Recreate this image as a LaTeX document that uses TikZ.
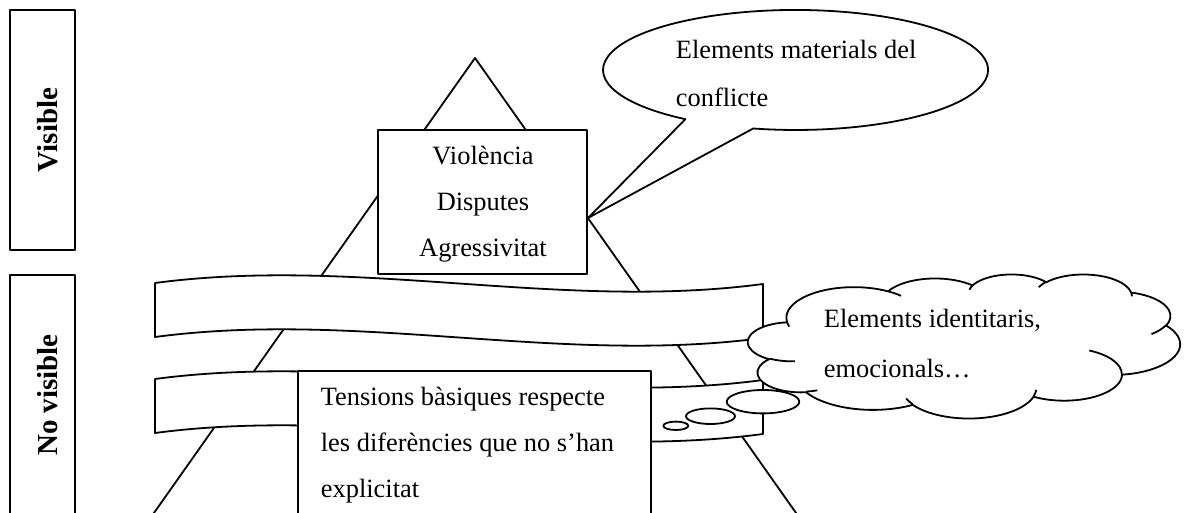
\documentclass[tikz,border=0pt]{standalone}
\usepackage{fontspec}
\setmainfont{Liberation Serif}

\newcommand\cldarc[4]{\pgfextra{%
    \pgfmathsetmacro\cla{atan2(#1*sin(#3),#2*cos(#3))}%
    \pgfmathsetmacro\clb{mod(atan2(#1*sin(#3+#4),#2*cos(#3+#4))-\cla+720,360)}%
    \xdef\clarcs{\cla}\xdef\clarcd{\clb}}%
  arc[start angle=\clarcs,delta angle=\clarcd,x radius=#1,y radius=#2]}

\begin{document}
\begin{tikzpicture}[x=0.5pt,y=-0.5pt,line width=0.9pt,line join=round,
  txt/.style={font=\fontsize{13.2}{23}\selectfont,inner sep=0pt,align=left},
  lbl/.style={draw,rotate=90,minimum width=120pt,minimum height=32.5pt,text height=15pt,text depth=0pt,font=\fontsize{14.5}{16}\selectfont\bfseries},
  band/.style={draw,fill=white}]
\fill[white] (0,0) rectangle (1184,513);
\clip (0,0) rectangle (1184,513);
\node[lbl] (vis) at (42.5,130) {Visible};
\node[lbl] (novis) at (42.5,395) {No visible};
\draw (149,520) -- (475,58) -- (801,520);
\draw[band] (155,283) .. controls (358,256) and (560,311) .. (763,284) -- (763,338) .. controls (560,365) and (358,310) .. (155,337) -- cycle;
\draw[band] (155,379) .. controls (358,352) and (560,407) .. (763,380) -- (763,434) .. controls (560,461) and (358,406) .. (155,433) -- cycle;
\node[draw,fill=white,minimum width=104.5pt,minimum height=72pt] (violbox) at (482.5,202) {};
\node[txt,align=center,anchor=base] (viol) at (483,257) {Violència\\Disputes\\Agressivitat};
\draw[band] (298,371) rectangle (651,530);
\node[txt,anchor=base west] (tens) at (320,497) {Tensions bàsiques respecte\\les diferències que no s’han\\explicitat};
\coordinate (tip) at (588,218);
\draw[band] (tip) -- (753.2,128.5) arc[start angle=102.7,end angle=-235.1,x radius=192.5,y radius=60] -- cycle;
\node[txt,anchor=base west] (mat) at (675,107) {Elements materials del\\[1pt]conflicte};
\begin{scope}[shift={(748,274)},x=0.5pt,y=-0.16667pt]
\draw[band] (39,143.7) \cldarc{67.53}{91.90}{-190.4875}{123.7805}
  \cldarc{53.33}{72.67}{-144.1024}{89.9452}
  \cldarc{43.65}{59.45}{-145.8079}{99.7230}
  \cldarc{48.57}{65.95}{-130.9861}{117.2417}
  \cldarc{53.33}{72.73}{-78.7089}{109.0269}
  \cldarc{67.75}{92.20}{-46.2673}{130.2690}
  \cldarc{57.85}{78.67}{0.6250}{114.0333}
  \cldarc{67.52}{92.15}{22.4516}{115.1726}
  \cldarc{77.20}{105.43}{66.2426}{75.7110}
  \cldarc{43.60}{59.18}{-274.9421}{146.7356}
  \cldarc{43.45}{59.45}{-246.8285}{152.5189} -- cycle;
\draw (46.93,261.77) \cldarc{43.45}{59.45}{86.7420}{26.4295}
  (69.28,348.99) \cldarc{43.60}{59.18}{73.6105}{11.4475}
  (164.78,390.90) \cldarc{67.52}{92.15}{137.6242}{14.0811}
  (288.27,347.51) \cldarc{67.52}{92.15}{6.4533}{15.9984}
  (341.29,229.54) \cldarc{57.85}{78.67}{-70.2924}{70.9174}
  (417.98,153.54) \cldarc{53.33}{72.73}{30.3180}{27.7515}
  (383.24,54.26) \cldarc{48.57}{65.95}{-13.7443}{14.8589}
  (290.78,39.52) \cldarc{48.57}{65.95}{-149.1815}{18.1954}
  (221.41,47.20) \cldarc{43.65}{59.45}{-163.4943}{17.6864}
  (140.00,51.92) \cldarc{67.53}{91.90}{-66.7070}{12.3194}
  (41.27,157.89) \cldarc{67.53}{91.90}{157.6544}{11.8582};
\end{scope}
\node[txt,anchor=base west] (emo) at (823,378) {Elements identitaris,\\[2pt]emocionals…};
\draw[band] (763,401.7) ellipse [x radius=36.3,y radius=11.7];
\draw[band] (710.5,416.2) ellipse [x radius=24.5,y radius=7.8];
\draw[band] (675.8,425.8) ellipse [x radius=12.5,y radius=4.2];
\end{tikzpicture}
\end{document}
